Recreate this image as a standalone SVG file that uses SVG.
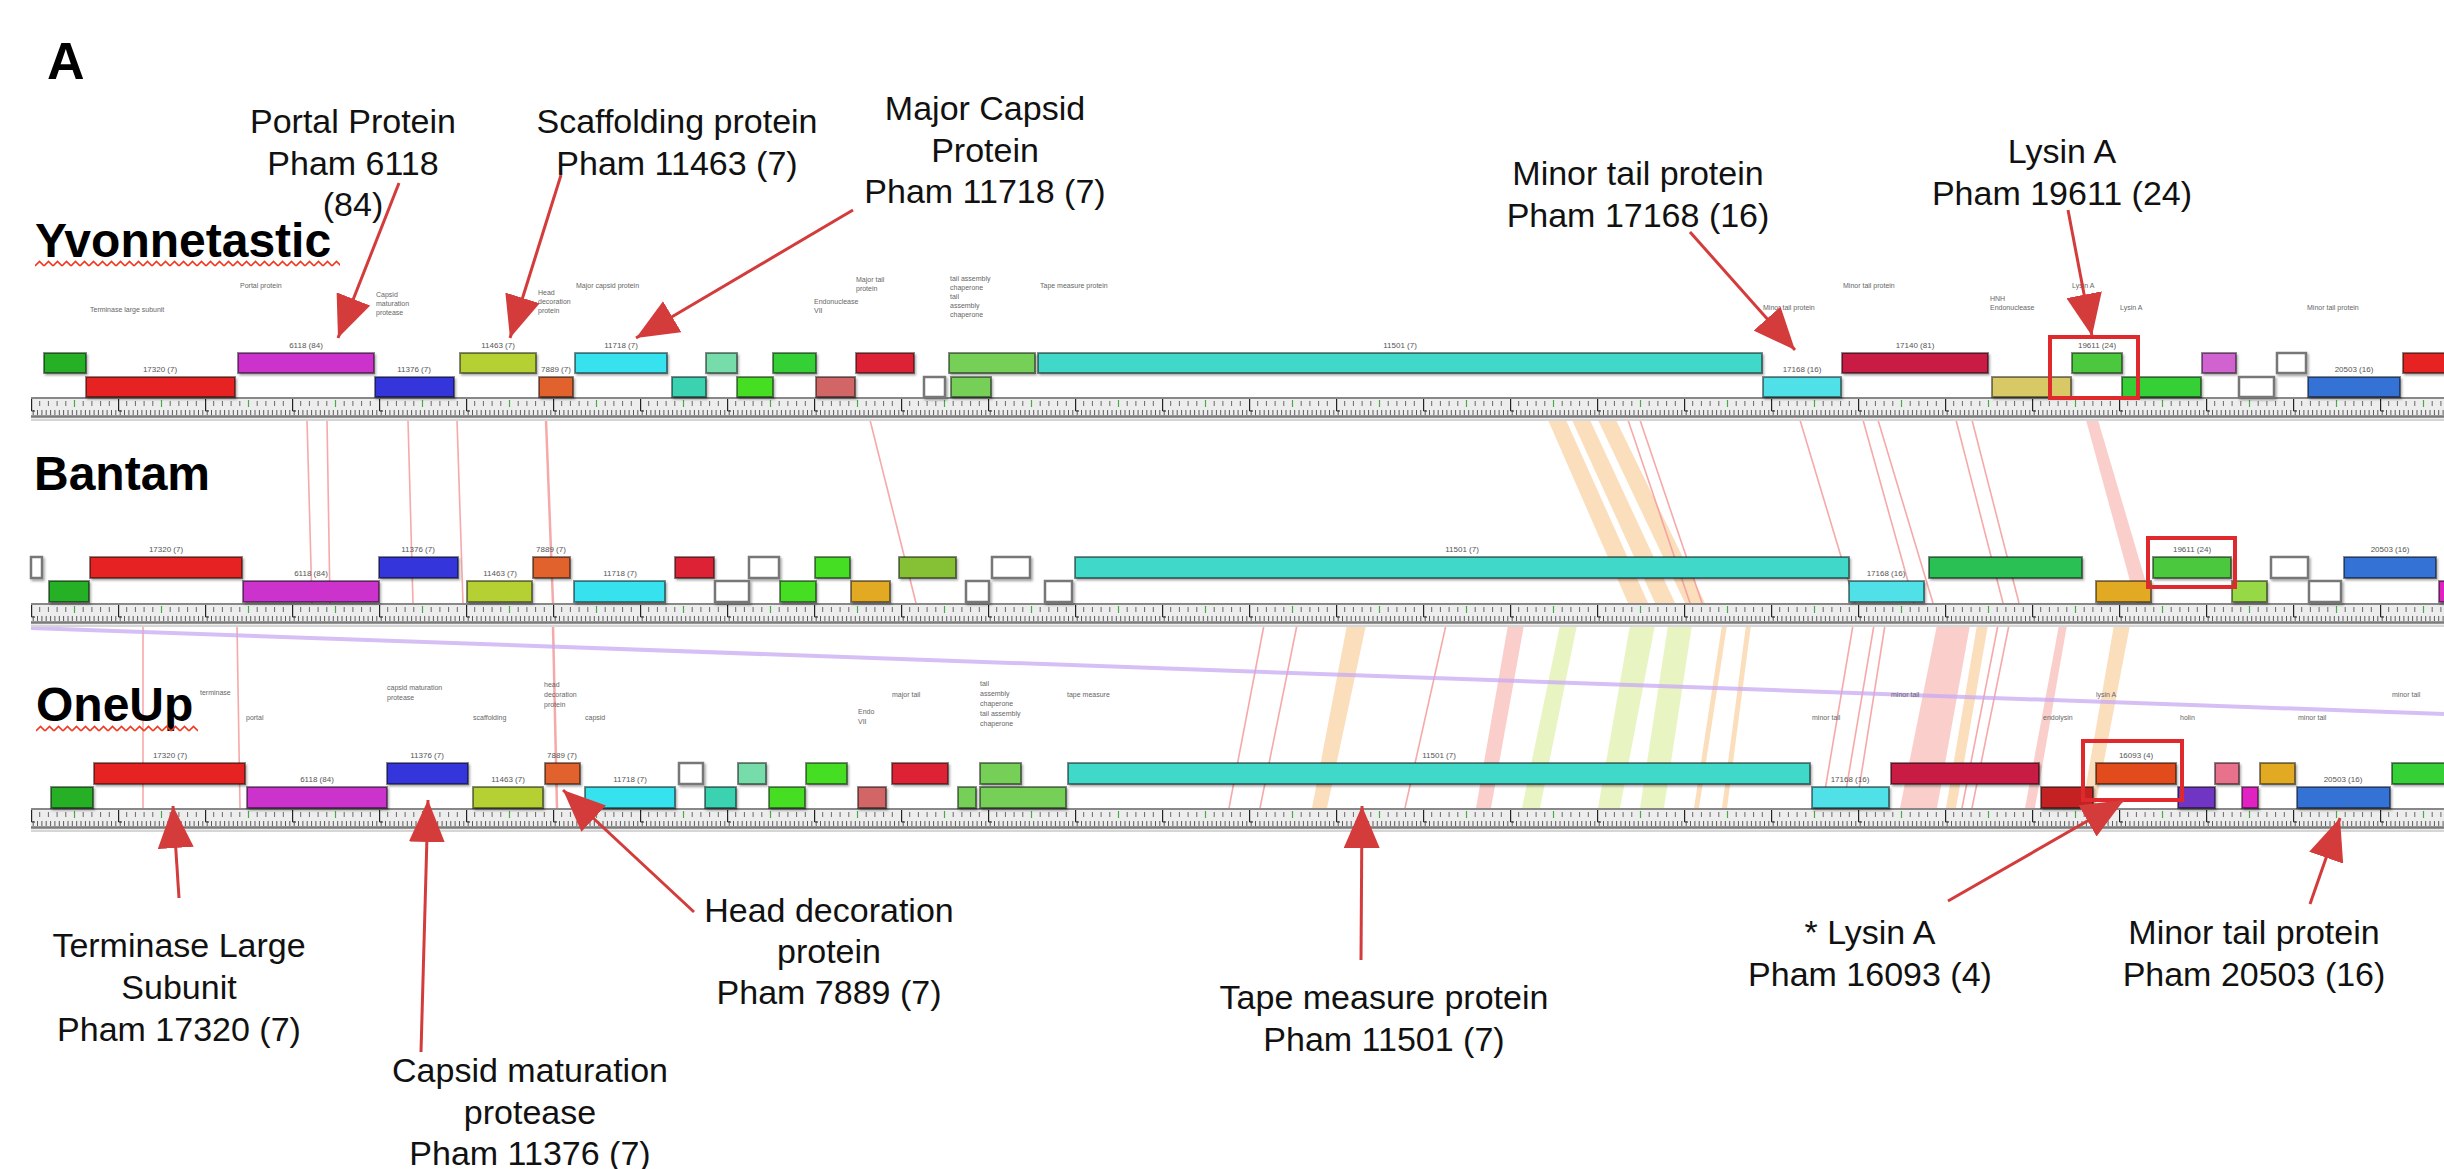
<svg xmlns="http://www.w3.org/2000/svg" width="2444" height="1169" viewBox="0 0 2444 1169">
<style>
.lb{font-family:"Liberation Sans",Arial,sans-serif;font-size:34px;fill:#111;text-anchor:middle}
.nm{font-family:"Liberation Sans",Arial,sans-serif;font-size:48px;font-weight:bold;fill:#000}
.pl{font-family:"Liberation Sans",Arial,sans-serif;font-size:8px;fill:#555;text-anchor:middle}
.fn{font-family:"Liberation Sans",Arial,sans-serif;font-size:7px;fill:#666}
.g rect{stroke:#000;stroke-opacity:.45;stroke-width:2}
.g rect.w{fill:#fff;stroke:#777;stroke-opacity:1;stroke-width:2.5}
.ar{stroke:#d43b3b;stroke-width:3;fill:none;marker-end:url(#ah)}
.hl{fill:none;stroke:#e0292c;stroke-width:4}
.ln{stroke:#f49a9a;stroke-width:1.6;fill:none;opacity:.85}
.bp{fill:#f6a8a0;opacity:.55}
.bo{fill:#f9c890;opacity:.6}
.by{fill:#e2f2b4;opacity:.8}
.c1{fill:#26b026}.c2{fill:#e62320}.c3{fill:#cc33cc}.c4{fill:#3434dc}.c5{fill:#b4d030}.c6{fill:#e2622e}
.c7{fill:#36e2ee}.c8{fill:#3ad2b2}.c9{fill:#74dcaa}.c10{fill:#44de22}.c11{fill:#36d036}.c12{fill:#d26666}
.c13{fill:#de2436}.c14{fill:#76d058}.c15{fill:#40d8c8}.c16{fill:#50e0e8}.c17{fill:#c81c44}.c18{fill:#d8c866}
.c19{fill:#4cc83e}.c20{fill:#d064d0}.c21{fill:#3472d6}.c22{fill:#e2aa24}.c23{fill:#86c034}.c24{fill:#2ac052}
.c25{fill:#96d844}.c26{fill:#c42222}.c27{fill:#e24c1c}.c28{fill:#7034c2}.c29{fill:#e8728c}.c30{fill:#e022c2}
</style>
<defs>
<marker id="ah" markerUnits="userSpaceOnUse" markerWidth="44" markerHeight="36" refX="42" refY="18" orient="auto">
<path d="M0 0 L42 18 L0 36 z" fill="#d43b3b"/>
</marker>
<filter id="sh" x="-5%" y="-20%" width="110%" height="160%">
<feDropShadow dx="1.5" dy="2" stdDeviation="1" flood-color="#000" flood-opacity=".35"/>
</filter>
<pattern id="rt" patternUnits="userSpaceOnUse" x="31" y="0" width="87" height="23">
<path d="M0.6 2V14 M0.6 14H4" stroke="#222" stroke-width="1.2" fill="none"/>
<path d="M8.7 4V9 M17.4 4V9 M26.1 4V9 M34.8 4V9 M52.2 4V9 M60.9 4V9 M69.6 4V9 M78.3 4V9" stroke="#444" stroke-width=".8"/>
<path d="M43.5 3V10" stroke="#4aa84a" stroke-width="1.2"/>
<path d="M2.2 13V18 M6.5 13V18 M10.9 13V18 M15.2 13V18 M19.6 13V18 M23.9 13V18 M28.3 13V18 M32.6 13V18 M37 13V18 M41.3 13V18 M45.7 13V18 M50 13V18 M54.4 13V18 M58.7 13V18 M63.1 13V18 M67.4 13V18 M71.8 13V18 M76.1 13V18 M80.5 13V18 M84.8 13V18" stroke="#333" stroke-width=".8"/>
</pattern>
<pattern id="wv" patternUnits="userSpaceOnUse" x="0" y="0" width="9" height="8">
<path d="M0 6 L4.5 1.5 L9 6" fill="none" stroke="#f03a20" stroke-width="1.6"/>
</pattern>
<g id="ruler">
<rect x="31" y="0" width="2413" height="22" fill="#ededed"/>
<rect x="31" y="0" width="2413" height="23" fill="url(#rt)"/>
<line x1="31" y1="1" x2="2444" y2="1" stroke="#666" stroke-width="1.5"/>
<line x1="31" y1="19.5" x2="2444" y2="19.5" stroke="#7a7a7a" stroke-width="2.5"/>
<line x1="31" y1="23" x2="2444" y2="23" stroke="#d6d6d6" stroke-width="2"/>
</g>
</defs>
<rect width="2444" height="1169" fill="#fff"/>

<g id="homology-links">
<g id="links-yvonnetastic-bantam">
<line class="ln" x1="307" y1="420" x2="312" y2="603"/>
<line class="ln" x1="327" y1="420" x2="330" y2="603"/>
<line class="ln" x1="408" y1="420" x2="413" y2="603"/>
<line class="ln" x1="457" y1="420" x2="463" y2="603"/>
<line class="ln" x1="546" y1="420" x2="553" y2="603" style="stroke-width:2.5"/>
<line class="ln" x1="870" y1="420" x2="916" y2="603"/>
<polygon class="bo" points="1548,420 1566,420 1648,603 1628,603"/>
<polygon class="bo" points="1572,420 1590,420 1675,603 1655,603"/>
<polygon class="bo" points="1598,420 1616,420 1705,603 1685,603"/>
<line class="ln" x1="1628" y1="420" x2="1690" y2="603"/>
<line class="ln" x1="1640" y1="420" x2="1702" y2="603"/>
<line class="ln" x1="1800" y1="420" x2="1855" y2="603"/>
<line class="ln" x1="1863" y1="420" x2="1914" y2="603"/>
<line class="ln" x1="1878" y1="420" x2="1933" y2="603"/>
<line class="ln" x1="1956" y1="420" x2="2003" y2="603"/>
<line class="ln" x1="1972" y1="420" x2="2019" y2="603"/>
<polygon class="bp" points="2086,420 2098,420 2152,603 2136,603"/>
</g>
<g id="links-bantam-oneup">
<line class="ln" x1="143" y1="625" x2="143" y2="808"/>
<line class="ln" x1="237" y1="625" x2="240" y2="808"/>
<line class="ln" x1="553" y1="625" x2="557" y2="808" style="stroke-width:2.5"/>
<line class="ln" x1="1264" y1="625" x2="1229" y2="808"/>
<line class="ln" x1="1297" y1="625" x2="1260" y2="808"/>
<polygon class="bo" points="1347,625 1366,625 1327,808 1312,808"/>
<line class="ln" x1="1446" y1="625" x2="1405" y2="808"/>
<polygon class="bp" points="1508,625 1524,625 1491,808 1476,808"/>
<polygon class="by" points="1560,625 1577,625 1540,808 1522,808"/>
<polygon class="by" points="1630,625 1655,625 1620,808 1598,808"/>
<polygon class="by" points="1668,625 1692,625 1664,808 1640,808"/>
<polygon class="bo" points="1722,625 1727,625 1699,808 1694,808"/>
<polygon class="bo" points="1746,625 1751,625 1727,808 1722,808"/>
<line class="ln" x1="1853" y1="625" x2="1822" y2="808"/>
<line class="ln" x1="1874" y1="625" x2="1843" y2="808"/>
<line class="ln" x1="1885" y1="625" x2="1856" y2="808"/>
<polygon class="bp" points="1937,625 1970,625 1937,808 1900,808"/>
<polygon class="bo" points="1977,625 1988,625 1956,808 1946,808"/>
<line class="ln" x1="1998" y1="625" x2="1962" y2="808"/>
<line class="ln" x1="2009" y1="625" x2="1972" y2="808"/>
<polygon class="bp" points="2059,625 2067,625 2035,808 2025,808"/>
<polygon class="bo" points="2114,625 2130,625 2095,808 2082,808"/>
</g>
<line id="link-long" x1="31" y1="628" x2="2444" y2="714" stroke="#c9aaf2" stroke-width="4" opacity=".75"/>
</g>

<g id="label-A"><text x="47" y="79" style="font-family:'Liberation Sans',Arial,sans-serif;font-size:52px;font-weight:bold">A</text></g>

<g id="track-yvonnetastic">
<text class="nm" x="35" y="257">Yvonnetastic</text>
<g transform="translate(35,260)"><rect width="305" height="8" fill="url(#wv)"/></g>
<use href="#ruler" transform="translate(0,397)"/>
<g class="fnl">
<text class="fn" x="90" y="312">Terminase large subunit</text>
<text class="fn" x="240" y="288">Portal protein</text>
<text class="fn" x="376" y="297">Capsid</text>
<text class="fn" x="376" y="306">maturation</text>
<text class="fn" x="376" y="315">protease</text>
<text class="fn" x="538" y="295">Head</text>
<text class="fn" x="538" y="304">decoration</text>
<text class="fn" x="538" y="313">protein</text>
<text class="fn" x="576" y="288">Major capsid protein</text>
<text class="fn" x="814" y="304">Endonuclease</text>
<text class="fn" x="814" y="313">VII</text>
<text class="fn" x="856" y="282">Major tail</text>
<text class="fn" x="856" y="291">protein</text>
<text class="fn" x="950" y="281">tail assembly</text>
<text class="fn" x="950" y="290">chaperone</text>
<text class="fn" x="950" y="299">tail</text>
<text class="fn" x="950" y="308">assembly</text>
<text class="fn" x="950" y="317">chaperone</text>
<text class="fn" x="1040" y="288">Tape measure protein</text>
<text class="fn" x="1763" y="310">Minor tail protein</text>
<text class="fn" x="1843" y="288">Minor tail protein</text>
<text class="fn" x="1990" y="301">HNH</text>
<text class="fn" x="1990" y="310">Endonuclease</text>
<text class="fn" x="2072" y="288">Lysin A</text>
<text class="fn" x="2120" y="310">Lysin A</text>
<text class="fn" x="2307" y="310">Minor tail protein</text>
</g>
<g class="g" filter="url(#sh)">
<rect id="y-g1" class="c1" x="44" y="353" width="42" height="20"/>
<rect id="y-g2" class="c2" x="86" y="377" width="149" height="20"/>
<rect id="y-g3" class="c3" x="238" y="353" width="136" height="20"/>
<rect id="y-g4" class="c4" x="375" y="377" width="79" height="20"/>
<rect id="y-g5" class="c5" x="460" y="353" width="76" height="20"/>
<rect id="y-g6" class="c6" x="539" y="377" width="34" height="20"/>
<rect id="y-g7" class="c7" x="575" y="353" width="92" height="20"/>
<rect id="y-g8" class="c8" x="672" y="377" width="34" height="20"/>
<rect id="y-g9" class="c9" x="706" y="353" width="31" height="20"/>
<rect id="y-g10" class="c10" x="737" y="377" width="36" height="20"/>
<rect id="y-g11" class="c11" x="773" y="353" width="43" height="20"/>
<rect id="y-g12" class="c12" x="816" y="377" width="39" height="20"/>
<rect id="y-g13" class="c13" x="856" y="353" width="58" height="20"/>
<rect id="y-g14" class="w" x="924" y="377" width="21" height="20"/>
<rect id="y-g15" class="c14" x="949" y="353" width="86" height="20"/>
<rect id="y-g16" class="c14" x="951" y="377" width="40" height="20"/>
<rect id="y-g17" class="c15" x="1038" y="353" width="724" height="20"/>
<rect id="y-g18" class="c16" x="1763" y="377" width="78" height="20"/>
<rect id="y-g19" class="c17" x="1842" y="353" width="146" height="20"/>
<rect id="y-g20" class="c18" x="1992" y="377" width="79" height="20"/>
<rect id="y-g21" class="c19" x="2072" y="353" width="50" height="20"/>
<rect id="y-g22" class="c11" x="2122" y="377" width="79" height="20"/>
<rect id="y-g23" class="c20" x="2202" y="353" width="34" height="20"/>
<rect id="y-g24" class="w" x="2239" y="377" width="35" height="20"/>
<rect id="y-g25" class="w" x="2277" y="353" width="29" height="20"/>
<rect id="y-g26" class="c21" x="2308" y="377" width="92" height="20"/>
<rect id="y-g27" class="c2" x="2403" y="353" width="50" height="20"/>
</g>
<g>
<text class="pl" x="160" y="372">17320 (7)</text>
<text class="pl" x="306" y="348">6118 (84)</text>
<text class="pl" x="414" y="372">11376 (7)</text>
<text class="pl" x="498" y="348">11463 (7)</text>
<text class="pl" x="556" y="372">7889 (7)</text>
<text class="pl" x="621" y="348">11718 (7)</text>
<text class="pl" x="1400" y="348">11501 (7)</text>
<text class="pl" x="1802" y="372">17168 (16)</text>
<text class="pl" x="1915" y="348">17140 (81)</text>
<text class="pl" x="2097" y="348">19611 (24)</text>
<text class="pl" x="2354" y="372">20503 (16)</text>
</g>
<rect class="hl" x="2050" y="337" width="88" height="61"/>
</g>

<g id="track-bantam">
<text class="nm" x="34" y="490">Bantam</text>
<use href="#ruler" transform="translate(0,603)"/>
<g class="g" filter="url(#sh)">
<rect id="b-g1" class="w" x="31" y="557" width="11" height="21"/>
<rect id="b-g2" class="c1" x="49" y="581" width="40" height="21"/>
<rect id="b-g3" class="c2" x="90" y="557" width="152" height="21"/>
<rect id="b-g4" class="c3" x="243" y="581" width="136" height="21"/>
<rect id="b-g5" class="c4" x="379" y="557" width="79" height="21"/>
<rect id="b-g6" class="c5" x="467" y="581" width="65" height="21"/>
<rect id="b-g7" class="c6" x="533" y="557" width="37" height="21"/>
<rect id="b-g8" class="c7" x="574" y="581" width="91" height="21"/>
<rect id="b-g9" class="c13" x="675" y="557" width="39" height="21"/>
<rect id="b-g10" class="w" x="715" y="581" width="34" height="21"/>
<rect id="b-g11" class="w" x="749" y="557" width="30" height="21"/>
<rect id="b-g12" class="c10" x="780" y="581" width="36" height="21"/>
<rect id="b-g13" class="c10" x="815" y="557" width="35" height="21"/>
<rect id="b-g14" class="c22" x="851" y="581" width="39" height="21"/>
<rect id="b-g15" class="c23" x="899" y="557" width="57" height="21"/>
<rect id="b-g16" class="w" x="966" y="581" width="23" height="21"/>
<rect id="b-g17" class="w" x="992" y="557" width="38" height="21"/>
<rect id="b-g18" class="w" x="1045" y="581" width="27" height="21"/>
<rect id="b-g19" class="c15" x="1075" y="557" width="774" height="21"/>
<rect id="b-g20" class="c16" x="1849" y="581" width="75" height="21"/>
<rect id="b-g21" class="c24" x="1929" y="557" width="153" height="21"/>
<rect id="b-g22" class="c22" x="2096" y="581" width="55" height="21"/>
<rect id="b-g23" class="c19" x="2153" y="557" width="78" height="21"/>
<rect id="b-g24" class="c25" x="2232" y="581" width="35" height="21"/>
<rect id="b-g25" class="w" x="2271" y="557" width="37" height="21"/>
<rect id="b-g26" class="w" x="2309" y="581" width="32" height="21"/>
<rect id="b-g27" class="c21" x="2344" y="557" width="92" height="21"/>
<rect id="b-g28" class="c30" x="2439" y="581" width="12" height="21"/>
</g>
<g>
<text class="pl" x="166" y="552">17320 (7)</text>
<text class="pl" x="311" y="576">6118 (84)</text>
<text class="pl" x="418" y="552">11376 (7)</text>
<text class="pl" x="500" y="576">11463 (7)</text>
<text class="pl" x="551" y="552">7889 (7)</text>
<text class="pl" x="620" y="576">11718 (7)</text>
<text class="pl" x="1462" y="552">11501 (7)</text>
<text class="pl" x="1886" y="576">17168 (16)</text>
<text class="pl" x="2192" y="552">19611 (24)</text>
<text class="pl" x="2390" y="552">20503 (16)</text>
</g>
<rect class="hl" x="2148" y="538" width="87" height="49"/>
</g>

<g id="track-oneup">
<g>
<text class="fn" x="200" y="695">terminase</text>
<text class="fn" x="246" y="720">portal</text>
<text class="fn" x="387" y="690">capsid maturation</text>
<text class="fn" x="387" y="700">protease</text>
<text class="fn" x="473" y="720">scaffolding</text>
<text class="fn" x="544" y="687">head</text>
<text class="fn" x="544" y="697">decoration</text>
<text class="fn" x="544" y="707">protein</text>
<text class="fn" x="585" y="720">capsid</text>
<text class="fn" x="858" y="714">Endo</text>
<text class="fn" x="858" y="724">VII</text>
<text class="fn" x="892" y="697">major tail</text>
<text class="fn" x="980" y="686">tail</text>
<text class="fn" x="980" y="696">assembly</text>
<text class="fn" x="980" y="706">chaperone</text>
<text class="fn" x="980" y="716">tail assembly</text>
<text class="fn" x="980" y="726">chaperone</text>
<text class="fn" x="1067" y="697">tape measure</text>
<text class="fn" x="1812" y="720">minor tail</text>
<text class="fn" x="1891" y="697">minor tail</text>
<text class="fn" x="2043" y="720">endolysin</text>
<text class="fn" x="2096" y="697">lysin A</text>
<text class="fn" x="2180" y="720">holin</text>
<text class="fn" x="2298" y="720">minor tail</text>
<text class="fn" x="2392" y="697">minor tail</text>
</g>
<text class="nm" x="36" y="721">OneUp</text>
<g transform="translate(36,725)"><rect width="162" height="8" fill="url(#wv)"/></g>
<use href="#ruler" transform="translate(0,808)"/>
<g class="g" filter="url(#sh)">
<rect id="o-g1" class="c1" x="51" y="787" width="42" height="21"/>
<rect id="o-g2" class="c2" x="94" y="763" width="151" height="21"/>
<rect id="o-g3" class="c3" x="247" y="787" width="140" height="21"/>
<rect id="o-g4" class="c4" x="387" y="763" width="81" height="21"/>
<rect id="o-g5" class="c5" x="473" y="787" width="70" height="21"/>
<rect id="o-g6" class="c6" x="545" y="763" width="35" height="21"/>
<rect id="o-g7" class="c7" x="585" y="787" width="90" height="21"/>
<rect id="o-g8" class="w" x="679" y="763" width="24" height="21"/>
<rect id="o-g9" class="c8" x="705" y="787" width="31" height="21"/>
<rect id="o-g10" class="c9" x="738" y="763" width="28" height="21"/>
<rect id="o-g11" class="c10" x="769" y="787" width="36" height="21"/>
<rect id="o-g12" class="c10" x="806" y="763" width="41" height="21"/>
<rect id="o-g13" class="c12" x="858" y="787" width="28" height="21"/>
<rect id="o-g14" class="c13" x="892" y="763" width="56" height="21"/>
<rect id="o-g15" class="c14" x="958" y="787" width="18" height="21"/>
<rect id="o-g16" class="c14" x="980" y="787" width="86" height="21"/>
<rect id="o-g17" class="c14" x="980" y="763" width="41" height="21"/>
<rect id="o-g18" class="c15" x="1068" y="763" width="742" height="21"/>
<rect id="o-g19" class="c16" x="1812" y="787" width="77" height="21"/>
<rect id="o-g20" class="c17" x="1891" y="763" width="148" height="21"/>
<rect id="o-g21" class="c26" x="2041" y="787" width="52" height="21"/>
<rect id="o-g22" class="c27" x="2096" y="763" width="80" height="21"/>
<rect id="o-g23" class="c28" x="2178" y="787" width="37" height="21"/>
<rect id="o-g24" class="c29" x="2215" y="763" width="24" height="21"/>
<rect id="o-g25" class="c30" x="2242" y="787" width="16" height="21"/>
<rect id="o-g26" class="c22" x="2260" y="763" width="35" height="21"/>
<rect id="o-g27" class="c21" x="2297" y="787" width="93" height="21"/>
<rect id="o-g28" class="c11" x="2392" y="763" width="60" height="21"/>
</g>
<g>
<text class="pl" x="170" y="758">17320 (7)</text>
<text class="pl" x="317" y="782">6118 (84)</text>
<text class="pl" x="427" y="758">11376 (7)</text>
<text class="pl" x="508" y="782">11463 (7)</text>
<text class="pl" x="562" y="758">7889 (7)</text>
<text class="pl" x="630" y="782">11718 (7)</text>
<text class="pl" x="1439" y="758">11501 (7)</text>
<text class="pl" x="1850" y="782">17168 (16)</text>
<text class="pl" x="2136" y="758">16093 (4)</text>
<text class="pl" x="2343" y="782">20503 (16)</text>
</g>
<rect class="hl" x="2083" y="741" width="99" height="59"/>
</g>

<g id="callout-portal"><text class="lb" x="353" y="133">Portal Protein</text><text class="lb" x="353" y="175">Pham 6118</text><text class="lb" x="353" y="216">(84)</text></g>
<g id="callout-scaffolding"><text class="lb" x="677" y="133">Scaffolding protein</text><text class="lb" x="677" y="175">Pham 11463 (7)</text></g>
<g id="callout-major-capsid"><text class="lb" x="985" y="120">Major Capsid</text><text class="lb" x="985" y="162">Protein</text><text class="lb" x="985" y="203">Pham 11718 (7)</text></g>
<g id="callout-minor-tail-top"><text class="lb" x="1638" y="185">Minor tail protein</text><text class="lb" x="1638" y="227">Pham 17168 (16)</text></g>
<g id="callout-lysin-top"><text class="lb" x="2062" y="163">Lysin A</text><text class="lb" x="2062" y="205">Pham 19611 (24)</text></g>
<g id="callout-terminase"><text class="lb" x="179" y="957">Terminase Large</text><text class="lb" x="179" y="999">Subunit</text><text class="lb" x="179" y="1041">Pham 17320 (7)</text></g>
<g id="callout-capsid-maturation"><text class="lb" x="530" y="1082">Capsid maturation</text><text class="lb" x="530" y="1124">protease</text><text class="lb" x="530" y="1165">Pham 11376 (7)</text></g>
<g id="callout-head-decoration"><text class="lb" x="829" y="922">Head decoration</text><text class="lb" x="829" y="963">protein</text><text class="lb" x="829" y="1004">Pham 7889 (7)</text></g>
<g id="callout-tape-measure"><text class="lb" x="1384" y="1009">Tape measure protein</text><text class="lb" x="1384" y="1051">Pham 11501 (7)</text></g>
<g id="callout-lysin-bottom"><text class="lb" x="1870" y="944">* Lysin A</text><text class="lb" x="1870" y="986">Pham 16093 (4)</text></g>
<g id="callout-minor-tail-bottom"><text class="lb" x="2254" y="944">Minor tail protein</text><text class="lb" x="2254" y="986">Pham 20503 (16)</text></g>

<g id="connectors">
<line class="ar" x1="399" y1="183" x2="338" y2="338"/>
<line class="ar" x1="561" y1="175" x2="510" y2="338"/>
<line class="ar" x1="853" y1="210" x2="636" y2="338"/>
<line class="ar" x1="1690" y1="232" x2="1795" y2="350"/>
<line class="ar" x1="2068" y1="210" x2="2092" y2="336"/>
<line class="ar" x1="179" y1="898" x2="173" y2="806"/>
<line class="ar" x1="421" y1="1052" x2="428" y2="800"/>
<line class="ar" x1="694" y1="912" x2="563" y2="790"/>
<line class="ar" x1="1361" y1="960" x2="1362" y2="806"/>
<line class="ar" x1="1948" y1="901" x2="2124" y2="800"/>
<line class="ar" x1="2310" y1="904" x2="2340" y2="818"/>
</g>
</svg>
